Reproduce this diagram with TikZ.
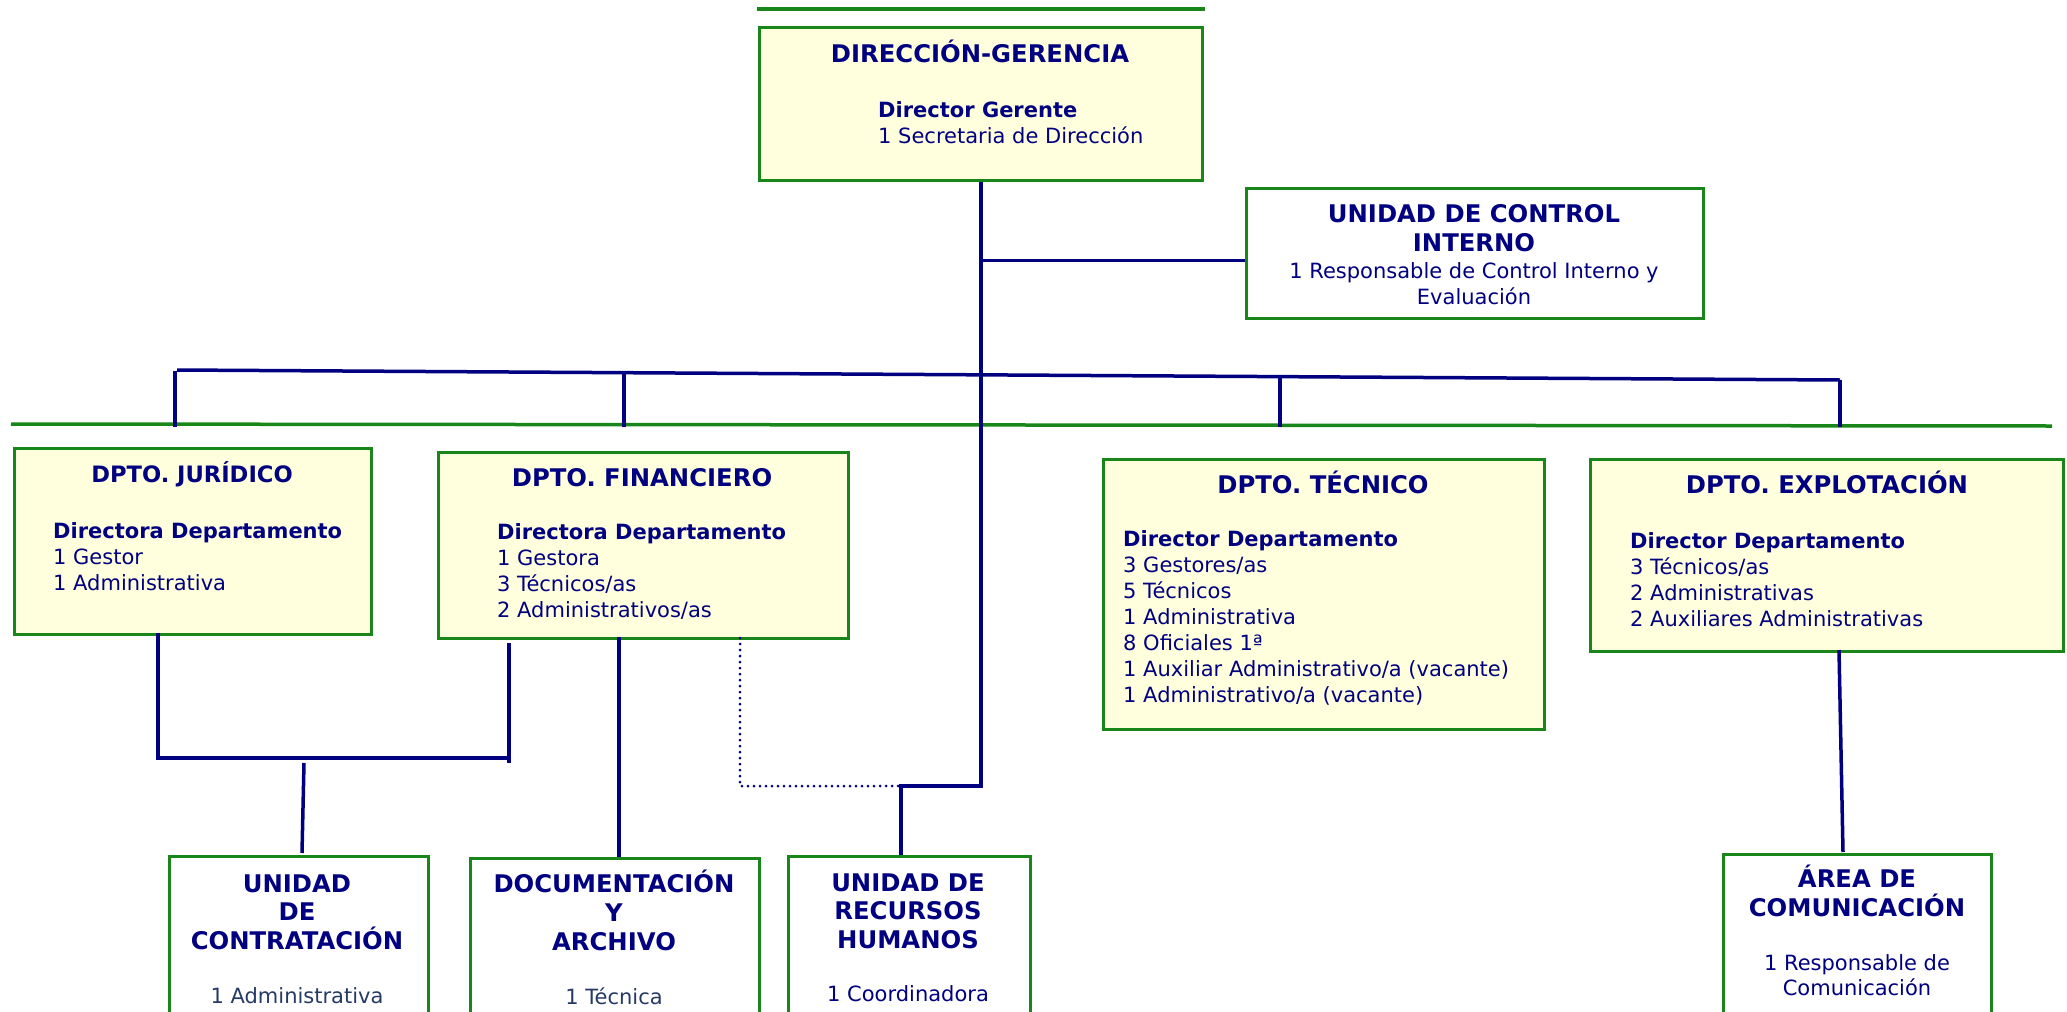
\documentclass[tikz,border=0pt]{standalone}
\usepackage{fontspec}
\setmainfont{DejaVu Sans}
\definecolor{navy}{RGB}{0,0,128}
\definecolor{orggreen}{RGB}{24,134,24}
\definecolor{boxfill}{RGB}{255,255,221}
\definecolor{slate}{RGB}{38,58,102}
\newcommand\ttlfont{\fontsize{24.3}{29}\selectfont\bfseries}
\newcommand\bodyfont{\fontsize{21}{26}\selectfont}

\begin{document}
\begin{tikzpicture}
[   x=1pt, y=-1pt,
    box/.style={draw=orggreen,line width=2.5pt,anchor=north west,inner sep=0pt},
    ttl/.style={font=\ttlfont,text=navy,anchor=base,inner sep=0pt},
    body/.style={font=\bodyfont,text=navy,anchor=base west,inner sep=0pt},
    bodyc/.style={body,anchor=base},
    boss/.style={body,font=\bodyfont\bfseries},
    org/.style={draw=navy,line width=3.5pt},
    sep/.style={draw=orggreen,line width=3.5pt},
]
    \useasboundingbox (0,0) rectangle (2067,1012);
    \clip (0,0) rectangle (2067,1012);

    % boxes
    \node[box,fill=boxfill,minimum width=443,minimum height=153] (dir) at (758,26) {};
    \node[box,minimum width=457,minimum height=130] (uci) at (1245,187) {};
    \node[box,fill=boxfill,minimum width=357,minimum height=186] (jur) at (13,447) {};
    \node[box,fill=boxfill,minimum width=410,minimum height=186] (fin) at (437,451) {};
    \node[box,fill=boxfill,minimum width=441,minimum height=270] (tec) at (1102,458) {};
    \node[box,fill=boxfill,minimum width=473,minimum height=192] (expl) at (1589,458) {};
    \node[box,minimum width=259,minimum height=157] (contr) at (168,855) {};
    \node[box,minimum width=289,minimum height=155] (doc) at (469,857) {};
    \node[box,minimum width=242,minimum height=157] (rrhh) at (787,855) {};
    \node[box,minimum width=268,minimum height=159] (com) at (1722,853) {};

    % separators
    \draw[sep] (757,9) -- (1205,9);
    \draw[sep] (11,424) -- (2052,426);

    % texts
    \node[ttl] (dir-t) at (980,62) {DIRECCIÓN-GERENCIA};
    \node[boss] (dir-b) at (878,117) {Director Gerente};
    \node[body] (dir-s) at (878,143) {1 Secretaria de Dirección};

    \node[ttl] (uci-t1) at (1474,222) {UNIDAD DE CONTROL};
    \node[ttl] (uci-t2) at (1474,251) {INTERNO};
    \node[bodyc] (uci-s1) at (1474,278) {1 Responsable de Control Interno y};
    \node[bodyc] (uci-s2) at (1474,304) {Evaluación};

    \node[ttl,font=\fontsize{22.6}{27}\selectfont\bfseries] (jur-t) at (192,482) {DPTO. JURÍDICO};
    \node[boss] (jur-b) at (53,538) {Directora Departamento};
    \foreach \t [count=\i from 0] in {1 Gestor,1 Administrativa}
        \node[body] (jur-\i) at (53,{564+26*\i}) {\t};

    \node[ttl] (fin-t) at (642,486) {DPTO. FINANCIERO};
    \node[boss] (fin-b) at (497,539) {Directora Departamento};
    \foreach \t [count=\i from 0] in {1 Gestora,3 Técnicos/as,2 Administrativos/as}
        \node[body] (fin-\i) at (497,{565+26*\i}) {\t};

    \node[ttl] (tec-t) at (1323,493) {DPTO. TÉCNICO};
    \node[boss] (tec-b) at (1123,546) {Director Departamento};
    \foreach \t [count=\i from 0] in {3 Gestores/as,5 Técnicos,1 Administrativa,8 Oficiales 1ª,
        1 Auxiliar Administrativo/a (vacante),1 Administrativo/a (vacante)}
        \node[body] (tec-\i) at (1123,{572+26*\i}) {\t};

    \node[ttl] (expl-t) at (1827,493) {DPTO. EXPLOTACIÓN};
    \node[boss] (expl-b) at (1630,548) {Director Departamento};
    \foreach \t [count=\i from 0] in {3 Técnicos/as,2 Administrativas,2 Auxiliares Administrativas}
        \node[body] (expl-\i) at (1630,{574+26*\i}) {\t};

    \foreach \t [count=\i from 0] in {UNIDAD,DE,CONTRATACIÓN}
        \node[ttl] (contr-\i) at (297,{892+28.5*\i}) {\t};
    \node[bodyc,text=slate] (contr-s) at (297,1003) {1 Administrativa};

    \foreach \t [count=\i from 0] in {DOCUMENTACIÓN,Y,ARCHIVO}
        \node[ttl] (doc-\i) at (614,{892+29*\i}) {\t};
    \node[bodyc,text=slate] (doc-s) at (614,1004) {1 Técnica};

    \foreach \t [count=\i from 0] in {UNIDAD DE,RECURSOS,HUMANOS}
        \node[ttl] (rrhh-\i) at (908,{891+28.5*\i}) {\t};
    \node[bodyc] (rrhh-s) at (908,1001) {1 Coordinadora};

    \foreach \t [count=\i from 0] in {ÁREA DE,COMUNICACIÓN}
        \node[ttl] (com-\i) at (1857,{887+29*\i}) {\t};
    \node[bodyc] (com-s1) at (1857,970) {1 Responsable de};
    \node[bodyc] (com-s2) at (1857,995) {Comunicación};

    % connectors
    \coordinate (trunk) at (981,786);
    \coordinate (bus-l) at (177,370);
    \coordinate (bus-r) at (1840,380);
    \coordinate (jl) at (158,633);
    \coordinate (jf) at (509,758);
    \coordinate (fd) at (619,637);
    \coordinate (hr) at (901,786);
    \coordinate (ec) at (1839,650);

    \draw[org] (trunk |- dir.south) -- (trunk) -- (hr) -- (hr |- rrhh.north);
    \draw[org] (trunk |- uci.west) ++(0,7) -- ([yshift=-7pt]uci.west);
    \draw[org] (bus-l) -- (bus-r);
    \foreach \x/\y/\n in {175/371/jur,624/373/fin,1280/377/tec,1840/380/expl}
    {   \coordinate (drop-\n) at (\x,427);
        \draw[org] (\x,\y) -- (drop-\n);
    }
    \draw[org] (jl) -- (jl |- jf) -- (jf);
    \draw[org] (509,643) -- (509,763);
    \draw[org] (304,763) -- (302,853) coordinate (contr-in);
    \draw[org] (fd) -- (fd |- doc.north);
    \draw[navy,line width=3pt,line cap=round,dash pattern=on 0pt off 6pt] (740,638) -- (740,786) -- (hr);
    \draw[org] (ec) -- (1843,852) coordinate (com-in);
\end{tikzpicture}
\end{document}
